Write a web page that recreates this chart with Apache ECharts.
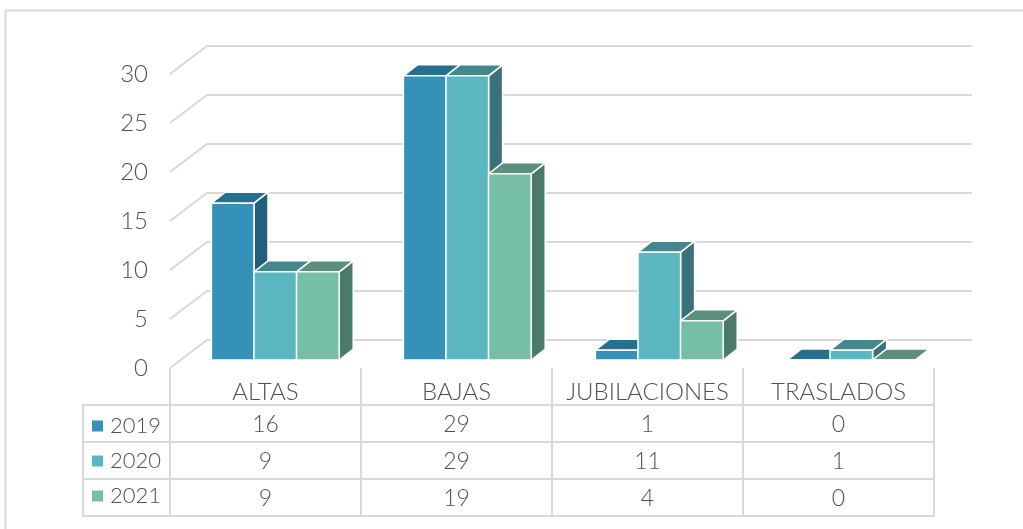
<!DOCTYPE html>
<html><head><meta charset="utf-8">
<style>html,body{margin:0;padding:0;background:#fff}#c{width:1023px;height:529px}</style>
<script src="https://cdn.jsdelivr.net/npm/echarts@6/dist/echarts.min.js"></script>
</head><body><div id="c"></div>
<script>
const categories = ['ALTAS','BAJAS','JUBILACIONES','TRASLADOS'];
const years = ['2019','2020','2021'];
const values2019 = [16,29,1,0];
const values2020 = [9,29,11,1];
const values2021 = [9,19,4,0];
const yTicks = [0,5,10,15,20,25,30];
const front = ['#3591BA','#5AB7C1','#76BEA6'];
const topFace = ['#276F8F','#45878E','#5A907C'];
const sideFace = ['#215F7A','#39727B','#4C7A69'];
const allValues = [values2019,values2020,values2021];

const FONT = 'Lato';
const TXT = '#505050';
const LINE = '#D9D9D9';
const chart = echarts.init(document.getElementById('c'),null,{renderer:'canvas'});

const DX=14, DY=-11, BW=42.6, LIFT=8, CSHIFT=9.8, CDRIFT=1;

function wallItem(params, api){
  const p = api.coord([0, api.value(0)]);
  const cs = params.coordSys;
  const x0 = cs.x, y0 = p[1];
  return {type:'polyline', silent:true,
    shape:{points:[[x0,y0],[x0+37,y0-28],[x0+cs.width+38,y0-28]]},
    style:{stroke:LINE,lineWidth:2,fill:null}};
}
function barRender(si){
  return function(params, api){
    const cat = api.value(0);
    const c = api.coord([cat, api.value(1)]);
    const base = api.coord([cat, 0]);
    const x = c[0] + CSHIFT + cat*CDRIFT + (si-1)*BW - BW/2;
    const yT = c[1]-LIFT, yB = base[1]-LIFT;
    const st = {stroke:'#fff',lineWidth:1.5,lineJoin:'round'};
    return {type:'group',children:[
      {type:'polygon',shape:{points:[[x+BW,yT],[x+BW+DX,yT+DY],[x+BW+DX,yB+DY],[x+BW,yB]]},style:Object.assign({fill:sideFace[si]},st)},
      {type:'polygon',shape:{points:[[x,yT],[x+DX,yT+DY],[x+BW+DX,yT+DY],[x+BW,yT]]},style:Object.assign({fill:topFace[si]},st)},
      {type:'rect',shape:{x:x,y:yT,width:BW,height:yB-yT},style:Object.assign({fill:front[si]},st)}
    ]};
  };
}
function cellRender(params, api){
  const p = api.coord([api.value(0), api.value(1)]);
  return {type:'text',silent:true,style:{x:p[0],y:p[1]+1,text:String(api.value(2)),
    align:'center',verticalAlign:'middle',fill:TXT,font:'300 23px '+FONT}};
}
const series = [{
  type:'custom',name:'walls',xAxisIndex:0,yAxisIndex:0,z:1,silent:true,
  coordinateSystem:'cartesian2d',
  data:yTicks.map(v=>[v]),encode:{y:0},renderItem:wallItem,tooltip:{show:false}
}];
years.forEach((y,si)=>{
  series.push({type:'custom',name:y,xAxisIndex:0,yAxisIndex:0,z:2+si,
    itemStyle:{color:front[si]},
    data:allValues[si].map((v,i)=>[i,v]),encode:{x:0,y:1},renderItem:barRender(si)});
  series.push({type:'custom',name:y,xAxisIndex:2,yAxisIndex:2,z:5,silent:true,
    itemStyle:{color:front[si]},
    data:allValues[si].map((v,i)=>[i,si,v]),encode:{x:0,y:1},renderItem:cellRender});
});
const splitL = {show:true,interval:0,lineStyle:{color:LINE,width:2}};
chart.setOption({
  animation:false,
  backgroundColor:'#fff',
  textStyle:{fontFamily:FONT},
  graphic:[
    {type:'polyline',silent:true,z:0,shape:{points:[[5.5,529],[5.5,10.5],[1023,10.5]]},style:{stroke:LINE,lineWidth:2,fill:null}},
    {type:'line',silent:true,z:0,shape:{x1:83,y1:404,x2:83,y2:517},style:{stroke:LINE,lineWidth:2}}
  ],
  legend:{orient:'vertical',left:92,top:415,height:112,padding:0,itemWidth:11,itemHeight:11,itemGap:13,icon:'rect',
    selectedMode:false,data:years,
    textStyle:{color:TXT,fontSize:22,fontWeight:300,fontFamily:FONT,padding:[1,0,0,2]}},
  grid:[
    {left:170,width:764,top:74,height:294},
    {left:170,width:764,top:368,height:37},
    {left:170,width:764,top:405,height:111}
  ],
  xAxis:[
    {gridIndex:0,type:'category',data:categories,axisLine:{show:false},axisTick:{show:false},axisLabel:{show:false}},
    {gridIndex:1,type:'category',data:categories,position:'top',axisLine:{show:false},axisTick:{show:false},
      axisLabel:{inside:true,margin:12,interval:0,color:TXT,fontSize:24,fontWeight:300,fontFamily:FONT},splitLine:splitL},
    {gridIndex:2,type:'category',data:categories,axisLine:{show:false},axisTick:{show:false},axisLabel:{show:false},splitLine:splitL}
  ],
  yAxis:[
    {gridIndex:0,type:'value',min:0,max:30,interval:5,axisLine:{show:false},axisTick:{show:false},splitLine:{show:false},
      axisLabel:{margin:22,color:TXT,fontSize:24,fontWeight:300,fontFamily:FONT,padding:[4,0,0,0]}},
    {gridIndex:1,type:'value',show:false,splitLine:{show:false}},
    {gridIndex:2,type:'category',data:[0,1,2],inverse:true,axisLine:{show:false},axisLabel:{show:false},
      axisTick:{show:true,length:87,interval:0,lineStyle:{color:LINE,width:2}},splitLine:splitL}
  ],
  series:series
});
</script></body></html>
